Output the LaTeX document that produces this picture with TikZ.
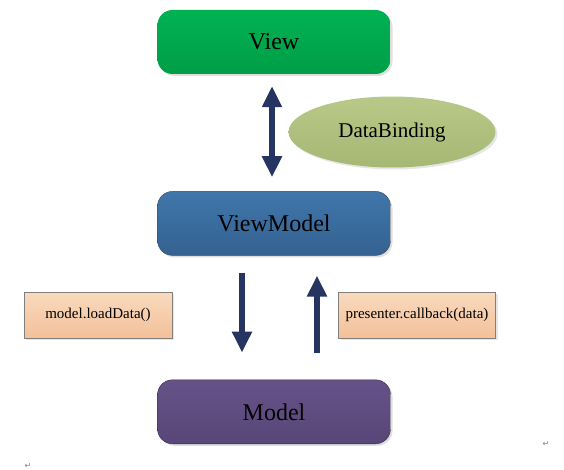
\documentclass[tikz,border=0pt]{standalone}
\usepackage{fontspec}
\setmainfont{Liberation Serif}
\newfontfamily\symfont{DejaVu Sans}
\usepackage{tikz}
\usetikzlibrary{positioning,arrows.meta,shapes.geometric,shadows}
\definecolor{navy}{HTML}{253460}

\begin{document}
\begin{tikzpicture}[x=1pt, y=1pt, node distance={117pt},
	layer/.style = {rounded corners=15pt, minimum width=233pt, minimum height=64pt, font=\fontsize{24}{28}\selectfont, drop shadow={shadow xshift=2pt, shadow yshift=-2pt, opacity=0.25}},
	call/.style = {draw=gray, minimum height=46pt, top color={rgb,255:red,249;green,218;blue,190}, bottom color={rgb,255:red,243;green,192;blue,154}, font=\fontsize{15}{18}\selectfont, drop shadow={shadow xshift=2pt, shadow yshift=-2pt, opacity=0.2}},
	flow/.style = {draw=navy, line width=6pt, -{Triangle[width=19pt,length=21pt]}},
	eolmark/.style = {text=gray, font=\symfont\fontsize{8}{8}\selectfont}]
	\useasboundingbox (0,0) rectangle (564,-470);
	\node[layer, top color={rgb,255:red,0;green,178;blue,82}, bottom color={rgb,255:red,0;green,158;blue,70}] (view) at (274,-42) {View};
	\node[layer, below=of view, draw={rgb,255:red,60;green,70;blue,90}, top color={rgb,255:red,64;green,118;blue,170}, bottom color={rgb,255:red,52;green,98;blue,146}] (vm) {ViewModel};
	\node[layer, below=124pt of vm, draw={rgb,255:red,50;green,40;blue,70}, top color={rgb,255:red,102;green,82;blue,136}, bottom color={rgb,255:red,88;green,70;blue,120}] (model) {Model};
	\node[ellipse, minimum width=207pt, minimum height=71pt, top color={rgb,255:red,184;green,200;blue,136}, bottom color={rgb,255:red,166;green,184;blue,116}, font=\fontsize{21}{25}\selectfont, drop shadow={shadow xshift=2pt, shadow yshift=-2pt, opacity=0.2}] (bind) at (392,-132) {DataBinding};
	\node[call, minimum width=148pt] (load) at (98,-315) {model.loadData()};
	\node[call, minimum width=157pt] (back) at (417,-315) {presenter.callback(data)};
	\draw[flow, {Triangle[width=19pt,length=21pt]}-{Triangle[width=19pt,length=21pt]}, shorten <=12pt, shorten >=14pt] ([xshift=-2pt]view.south) -- ([xshift=-2pt]vm.north);
	\draw[flow, shorten <=17pt, shorten >=27pt] ([xshift=-32pt]vm.south) -- ([xshift=-32pt]model.north);
	\draw[flow, shorten <=27pt, shorten >=20pt] ([xshift=43pt]model.north) -- ([xshift=43pt]vm.south);
	\node[eolmark] (eol1) at (546,-444) {↵};
	\node[eolmark] (eol2) at (28,-466) {↵};
\end{tikzpicture}
\end{document}
